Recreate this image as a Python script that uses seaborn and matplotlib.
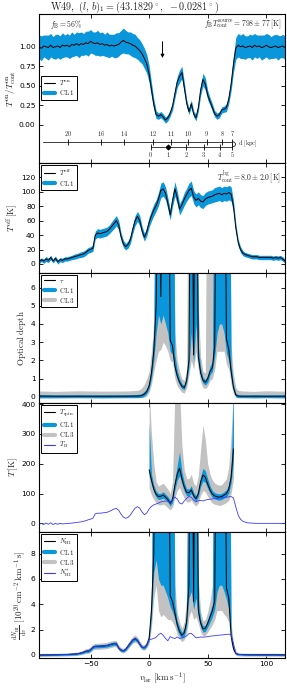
import numpy as np
import pandas as pd
import seaborn as sns
import matplotlib
matplotlib.use("Agg")
import matplotlib.pyplot as plt
from matplotlib.lines import Line2D
from matplotlib.patches import Arc

# ---------------- data ----------------
v_all = np.arange(-94, 117, 2)

ton = [1.00, 0.98, 1.01, 1.00, 0.99, 1.02, 0.99, 1.00, 1.01, 0.99,
       1.02, 1.01, 1.02, 1.00, 1.03, 1.02, 1.04, 1.02, 1.04, 1.03,
       1.05, 1.04, 1.07, 1.05, 1.04, 1.05, 1.03, 1.04, 1.02, 1.03,
       1.01, 1.02, 1.01, 1.02, 1.03, 1.06, 1.08, 1.06, 1.05, 1.04,
       1.02, 1.01, 0.98, 0.95, 0.91, 0.85, 0.78, 0.65, 0.45, 0.26,
       0.13, 0.11, 0.13, 0.10, 0.06, 0.09, 0.15, 0.24, 0.40, 0.55,
       0.62, 0.67, 0.48, 0.28, 0.17, 0.27, 0.14, 0.09, 0.22, 0.45,
       0.58, 0.52, 0.38, 0.30, 0.22, 0.14, 0.11, 0.13, 0.19, 0.20,
       0.22, 0.33, 0.52, 0.78, 0.98, 1.02, 1.00, 1.01, 0.99, 1.00,
       1.01, 0.99, 1.02, 1.00, 1.01, 0.99, 1.00, 1.02, 1.00, 0.99,
       1.00, 1.01, 0.99, 1.00, 1.01, 0.99]
ton_err = [0.15, 0.16, 0.14, 0.15, 0.16, 0.15, 0.14, 0.16, 0.15, 0.15,
           0.16, 0.14, 0.15, 0.15, 0.16, 0.14, 0.15, 0.16, 0.15, 0.14,
           0.15, 0.16, 0.15, 0.14, 0.15, 0.16, 0.15, 0.15, 0.14, 0.16,
           0.15, 0.14, 0.15, 0.16, 0.15, 0.15, 0.16, 0.15, 0.14, 0.15,
           0.15, 0.15, 0.14, 0.14, 0.13, 0.13, 0.12, 0.11, 0.09, 0.07,
           0.05, 0.04, 0.04, 0.04, 0.04, 0.04, 0.04, 0.05, 0.06, 0.07,
           0.08, 0.08, 0.07, 0.05, 0.04, 0.05, 0.04, 0.04, 0.05, 0.07,
           0.08, 0.08, 0.06, 0.05, 0.05, 0.04, 0.04, 0.04, 0.04, 0.04,
           0.05, 0.06, 0.08, 0.11, 0.14, 0.15, 0.15, 0.16, 0.15, 0.14,
           0.15, 0.16, 0.15, 0.15, 0.14, 0.16, 0.15, 0.15, 0.16, 0.14,
           0.15, 0.15, 0.16, 0.14, 0.15, 0.15]

toff = [3, 6, 4, 7, 5, 9, 4, 8, 3, 6,
        5, 7, 7, 8, 9, 10, 11, 12, 13, 14,
        16, 19, 20, 22, 40, 43, 42, 43, 44, 45,
        48, 52, 56, 60, 54, 38, 28, 24, 27, 34,
        48, 60, 66, 60, 46, 37, 45, 58, 67, 75,
        81, 90, 102, 104, 98, 84, 68, 88, 104, 92,
        76, 82, 90, 96, 102, 105, 93, 88, 91, 87,
        86, 90, 92, 93, 94, 96, 97, 98, 96, 98,
        97, 99, 97, 80, 50, 30, 20, 15, 13, 12,
        11, 10, 10, 10, 9, 9, 9, 9, 9, 9,
        8, 9, 8, 9, 7, 4]
toff_err = [3, 2.5, 3, 3.5, 3, 3, 2.5, 3, 3, 3,
            3, 3, 3, 3, 3, 3.5, 3.5, 3.5, 4, 4,
            4, 4, 4, 4.5, 5.5, 6, 6, 6, 6, 6,
            6, 6.5, 7, 7, 6.5, 5.5, 5, 4.5, 5, 5.5,
            6, 7, 7, 7, 6, 5.5, 6, 7, 7.5, 8,
            8, 9, 10, 10, 9, 8, 7, 8, 10, 9,
            8, 8, 9, 9, 10, 10, 9, 9, 9, 9,
            9, 9, 9, 9, 9, 10, 10, 10, 10, 10,
            10, 10, 10, 8, 6, 4.5, 4, 3.5, 3, 3,
            3, 3, 3, 3, 3, 3, 3, 3, 3, 3,
            3, 3, 3, 3, 3, 3]

tb = [-3, 0, -4, 1, -3, 2, -4, 0, -3, 0,
      -2, -1, -1, 0, 1, 2, 3, 4, 5, 7,
      9, 12, 14, 17, 32, 34, 34, 35, 36, 37,
      40, 44, 48, 50, 44, 31, 21, 17, 20, 28,
      40, 51, 56, 51, 38, 29, 35, 48, 57, 62,
      65, 68, 72, 74, 75, 74, 70, 80, 88, 82,
      68, 65, 75, 84, 90, 88, 78, 72, 76, 77,
      75, 78, 80, 81, 82, 83, 84, 85, 86, 87,
      88, 89, 90, 85, 55, 28, 14, 7, 4, 2,
      1, 1, 0, 0, 0, 0, 0, 0, 0, 0,
      0, 0, 0, 0, 0, 0]

# optical depth (values of 20 are saturated, off the top)
v_tau = [-94, -80, -60, -40, -20] + list(range(-10, 78, 2)) + [80, 90, 100, 116]
tau = [0.04, 0.03, 0.03, 0.03, 0.03,
       0.04, 0.05, 0.08, 0.15, 0.3, 0.6, 1.3, 2.5, 5.0, 20,
       5.5, 20, 20, 20, 3.1, 2.8, 1.7, 1.15, 0.8, 0.58,
       0.5, 0.9, 2.0, 20, 2.3, 20, 2.2, 1.3, 0.9, 0.8,
       1.0, 1.4, 1.6, 2.8, 20, 20, 20, 20, 3.2, 2.6,
       1.4, 0.5, 0.1, 0.04,
       0.03, 0.03, 0.03, 0.03]
tau_lo1 = [-0.06, -0.06, -0.05, -0.06, -0.05,
           -0.05, -0.04, -0.02, 0.05, 0.18, 0.45, 1.0, 2.0, 3.5, 4.5,
           4.0, 4.5, 4.0, 3.5, 2.5, 2.3, 1.4, 0.95, 0.65, 0.45,
           0.4, 0.75, 1.6, 3.5, 1.9, 4.0, 1.9, 1.1, 0.75, 0.65,
           0.8, 1.2, 1.4, 2.2, 3.5, 4.0, 4.0, 3.5, 2.4, 2.0,
           1.1, 0.35, 0.0, -0.05,
           -0.05, -0.06, -0.05, -0.06]
tau_hi1 = [0.12, 0.11, 0.12, 0.11, 0.12,
           0.13, 0.15, 0.2, 0.3, 0.45, 0.8, 1.7, 3.5, 20, 20,
           20, 20, 20, 20, 20, 20, 2.3, 1.45, 1.0, 0.72,
           0.62, 1.1, 2.6, 20, 20, 20, 2.8, 1.6, 1.05, 0.95,
           1.2, 1.7, 1.9, 20, 20, 20, 20, 20, 20, 20,
           1.8, 0.7, 0.2, 0.12,
           0.11, 0.12, 0.11, 0.12]
tau_lo3 = [-0.04, -0.03, -0.03, -0.04, -0.03,
           -0.03, -0.03, -0.03, -0.02, 0.05, 0.25, 0.7, 1.4, 2.0, 2.5,
           2.6, 3.0, 2.8, 2.5, 2.0, 1.9, 1.0, 0.6, 0.4, 0.25,
           0.2, 0.5, 1.2, 2.0, 1.5, 2.5, 1.5, 0.8, 0.5, 0.45,
           0.6, 0.9, 1.0, 1.5, 2.5, 2.5, 2.5, 2.5, 1.8, 1.5,
           0.7, 0.15, -0.03, -0.03,
           -0.03, -0.04, -0.03, -0.04]
tau_hi3 = [0.32, 0.30, 0.33, 0.31, 0.32,
           0.35, 0.4, 0.5, 0.7, 1.0, 1.4, 2.5, 4.0, 20, 20,
           20, 20, 20, 20, 20, 20, 3.5, 2.0, 1.4, 1.0,
           0.9, 1.5, 20, 20, 20, 20, 5.0, 2.2, 1.4, 1.3,
           20, 20, 20, 20, 20, 20, 20, 20, 20, 20,
           2.8, 1.2, 0.5, 0.35,
           0.32, 0.30, 0.33, 0.31]

# spin temperature
v_spin = list(range(0, 74, 2))
tspin = [180, 145, 115, 97, 90, 91, 95, 88, 80, 67,
         80, 128, 165, 185, 150, 122, 104, 103, 112, 93,
         83, 100, 140, 162, 155, 132, 112, 98, 92, 89,
         88, 90, 95, 100, 115, 155, 250]
tspin_lo1 = [160, 130, 105, 88, 80, 82, 85, 79, 71, 58,
             70, 112, 145, 160, 132, 108, 93, 92, 100, 83,
             74, 89, 124, 142, 137, 117, 100, 87, 82, 79,
             78, 80, 85, 89, 102, 135, 210]
tspin_hi1 = [340, 165, 128, 108, 100, 101, 106, 98, 90, 77,
             92, 148, 195, 240, 172, 138, 116, 115, 126, 104,
             93, 113, 158, 185, 176, 150, 126, 110, 103, 100,
             99, 101, 106, 113, 130, 185, 450]
tspin_lo3 = [120, 95, 80, 68, 62, 62, 65, 60, 52, 45,
             55, 85, 110, 120, 100, 85, 72, 72, 78, 65,
             58, 68, 95, 110, 105, 90, 78, 68, 64, 62,
             60, 62, 66, 70, 78, 100, 150]
tspin_hi3 = [450, 300, 200, 140, 125, 130, 135, 125, 115, 100,
             140, 450, 450, 450, 260, 180, 150, 150, 165, 135,
             125, 160, 250, 330, 280, 200, 165, 145, 135, 130,
             128, 130, 140, 150, 190, 300, 450]

# column density per velocity channel (30 = saturated)
v_nhi = [-94, -86, -78, -70, -66] + list(range(-62, 78, 2)) + [80, 86, 96, 106, 116]
nhi = [0.00, 0.01, 0.02, 0.04, 0.06,
       0.08, 0.12, 0.16, 0.22, 0.30, 0.31, 0.42, 0.61, 0.68, 0.68,
       0.69, 0.70, 0.72, 0.74, 0.80, 0.85, 0.90, 0.88, 0.55, 0.38,
       0.33, 0.45, 0.70, 0.95, 1.18, 1.28, 1.15, 0.85, 0.60, 0.58,
       0.80, 1.30, 3.50, 8.00, 30, 30, 30, 30, 30, 30,
       4.70, 4.20, 3.30, 2.40, 1.85, 1.55, 1.75, 2.60, 5.50, 30,
       4.20, 30, 3.50, 2.50, 2.05, 2.10, 2.50, 3.00, 3.50, 4.30,
       30, 30, 30, 30, 5.30, 4.50, 1.50, 0.50, 0.12, 0.05,
       0.03, 0.02, 0.02, 0.02, 0.01]
nhi_lo1 = [-0.06, -0.05, -0.04, -0.03, -0.01,
           0.01, 0.05, 0.08, 0.13, 0.20, 0.20, 0.30, 0.50, 0.56, 0.56,
           0.57, 0.58, 0.60, 0.62, 0.67, 0.72, 0.77, 0.75, 0.44, 0.28,
           0.24, 0.35, 0.58, 0.82, 1.04, 1.14, 1.02, 0.73, 0.49, 0.47,
           0.68, 1.10, 2.90, 6.50, 7.50, 6.00, 5.50, 5.50, 5.00, 4.50,
           3.80, 3.40, 2.80, 2.00, 1.55, 1.30, 1.50, 2.20, 4.50, 5.00,
           3.60, 4.50, 3.00, 2.20, 1.80, 1.85, 2.20, 2.60, 3.00, 3.60,
           5.00, 5.50, 5.50, 5.00, 4.40, 3.60, 1.20, 0.38, 0.05, -0.01,
           -0.03, -0.04, -0.04, -0.04, -0.05]
nhi_hi1 = [0.06, 0.07, 0.08, 0.11, 0.13,
           0.15, 0.19, 0.24, 0.31, 0.40, 0.42, 0.55, 0.73, 0.80, 0.80,
           0.81, 0.82, 0.84, 0.86, 0.93, 0.98, 1.03, 1.01, 0.66, 0.48,
           0.42, 0.55, 0.82, 1.08, 1.32, 1.42, 1.28, 0.97, 0.71, 0.69,
           0.92, 1.50, 4.20, 30, 30, 30, 30, 30, 30, 30,
           30, 30, 4.00, 2.70, 2.15, 1.80, 2.10, 3.10, 30, 30,
           30, 30, 4.50, 2.80, 2.30, 2.35, 2.80, 3.40, 4.00, 30,
           30, 30, 30, 30, 30, 30, 1.90, 0.65, 0.20, 0.11,
           0.09, 0.08, 0.08, 0.08, 0.07]
nhi_lo3 = [-0.12, -0.11, -0.10, -0.08, -0.06,
           -0.05, -0.02, 0.02, 0.06, 0.12, 0.12, 0.20, 0.40, 0.44, 0.44,
           0.45, 0.46, 0.48, 0.50, 0.55, 0.60, 0.65, 0.63, 0.34, 0.20,
           0.16, 0.26, 0.47, 0.70, 0.92, 1.00, 0.90, 0.62, 0.40, 0.38,
           0.56, 0.90, 2.20, 4.50, 5.50, 3.50, 3.00, 3.20, 3.00, 2.80,
           2.80, 2.60, 2.20, 1.60, 1.25, 1.05, 1.20, 1.70, 3.00, 3.50,
           2.80, 3.00, 2.50, 1.80, 1.50, 1.55, 1.80, 2.10, 2.40, 2.80,
           3.50, 3.50, 3.50, 3.20, 3.00, 2.60, 0.90, 0.25, -0.02, -0.07,
           -0.09, -0.10, -0.10, -0.10, -0.11]
nhi_hi3 = [0.12, 0.13, 0.14, 0.17, 0.19,
           0.22, 0.26, 0.32, 0.40, 0.50, 0.52, 0.65, 0.85, 0.92, 0.92,
           0.93, 0.95, 0.97, 0.99, 1.06, 1.10, 1.15, 1.13, 0.78, 0.58,
           0.52, 0.66, 0.95, 1.22, 1.46, 1.58, 1.42, 1.10, 0.82, 0.80,
           1.06, 1.80, 5.50, 30, 30, 30, 30, 30, 30, 30,
           30, 30, 5.50, 3.30, 2.60, 2.10, 2.60, 4.50, 30, 30,
           30, 30, 6.00, 3.40, 2.70, 2.80, 3.40, 4.30, 5.50, 30,
           30, 30, 30, 30, 30, 30, 2.60, 0.85, 0.30, 0.17,
           0.15, 0.14, 0.14, 0.14, 0.13]
nhi_star = [0.00, 0.01, 0.02, 0.04, 0.06,
            0.08, 0.12, 0.16, 0.22, 0.30, 0.31, 0.42, 0.61, 0.68, 0.68,
            0.69, 0.70, 0.72, 0.74, 0.80, 0.85, 0.90, 0.88, 0.55, 0.38,
            0.33, 0.45, 0.70, 0.95, 1.18, 1.28, 1.15, 0.85, 0.60, 0.58,
            0.80, 1.20, 1.25, 1.30, 1.40, 1.60, 1.72, 1.55, 1.30, 1.12,
            1.45, 1.35, 1.30, 1.42, 1.30, 1.35, 1.40, 1.50, 1.68, 1.70,
            1.55, 1.35, 1.38, 1.42, 1.40, 1.42, 1.45, 1.48, 1.50, 1.52,
            1.55, 1.56, 1.58, 1.60, 1.62, 1.64, 1.60, 0.90, 0.15, 0.04,
            0.02, 0.01, 0.01, 0.01, 0.00]

# kinematic distance scale (far / near side)
far_dist = [20, 16, 14, 12, 11, 10, 9, 8, 7]
far_vel = [-69, -41, -21.5, 3.5, 18.5, 33.5, 49, 62.5, 71]
near_dist = [0, 1, 2, 3, 4, 5]
near_vel = [1.5, 16, 31.5, 46.5, 60.5, 71]
arrow_vel = 11.4

# ---------------- style ----------------
BLUE = "#0a96da"
GRAY = "#c2c2c2"
TBC = "#3a3aff"

sns.set_style("ticks")
plt.rcParams["font.family"] = ["DejaVu Sans"]
plt.rcParams["mathtext.fontset"] = "cm"
plt.rcParams["axes.linewidth"] = 0.8

fig = plt.figure(figsize=(2.87, 6.88), dpi=100)
L, W = 39 / 287, 246 / 287
edges = [14, 163, 273, 403, 532, 658]
axes = []
for i in range(5):
    top, bot = edges[i], edges[i + 1]
    axes.append(fig.add_axes([L, 1 - bot / 688, W, (bot - top) / 688]))

def style(ax, ylim, yticks, fmt=None):
    ax.set_xlim(-94, 116)
    ax.set_ylim(*ylim)
    ax.set_xticks([-50, 0, 50, 100])
    ax.set_yticks(yticks)
    if fmt:
        ax.set_yticklabels([fmt % t for t in yticks])
    ax.tick_params(direction="in", top=True, right=True, length=3, width=0.6,
                   labelsize=5.4, pad=2.5, colors="k")
    for s in ax.spines.values():
        s.set_color("k")
    ax.set_xlabel("")

def band(ax, v, lo, hi, color):
    ax.fill_between(v, lo, hi, color=color, lw=0)

def legend(ax, items, **kw):
    handles = [Line2D([], [], color=c, lw=lw) for c, lw, _ in items]
    labels = [t for _, _, t in items]
    lg = ax.legend(handles, labels, loc="upper left", fontsize=5, frameon=True,
                   fancybox=False, edgecolor="k", framealpha=1, borderpad=0.35,
                   labelspacing=0.15, handlelength=1.6, handletextpad=0.6,
                   borderaxespad=0.3, **kw)
    lg.get_frame().set_linewidth(0.7)

# ---- panel 1: T_on / T_cont ----
ax = axes[0]
ton_a, ton_e = np.array(ton), np.array(ton_err)
band(ax, v_all, ton_a - ton_e, ton_a + ton_e, BLUE)
sns.lineplot(x=v_all, y=ton, ax=ax, color="k", lw=0.7)
style(ax, (-0.49, 1.42), [0, 0.25, 0.5, 0.75, 1.0], "%.2f")
ax.set_xticklabels([])
ax.set_ylabel(r"$T^{\rm on}/T^{\rm on}_{\rm cont}$", fontsize=6.5, labelpad=1)
legend(ax, [("k", 0.8, r"$T^{\rm on}$"), (BLUE, 3, r"${\rm CL\,1}$")],
       bbox_to_anchor=(0.0, 0.6))
ax.text(0.045, 0.93, r"$f_{\rm B}=56\%$", transform=ax.transAxes, fontsize=5.5,
        va="center")
ax.text(0.985, 0.93, r"$f_{\rm B}T^{\rm source}_{\rm cont}=798\pm77\,[{\rm K}]$",
        transform=ax.transAxes, fontsize=5.5, va="center", ha="right")
ax.annotate("", xy=(arrow_vel, 0.82), xytext=(arrow_vel, 1.10),
            arrowprops=dict(arrowstyle="-|>", color="k", lw=0.7, mutation_scale=5))
y_up, y_lo = -0.218, -0.282
ax.plot([-91, far_vel[-1]], [y_up, y_up], color="0.25", lw=0.7)
ax.plot([near_vel[0], near_vel[-1]], [y_lo, y_lo], color="0.25", lw=0.7)
ax.add_patch(Arc((71, (y_up + y_lo) / 2), 5.5, y_up - y_lo, theta1=-90, theta2=90,
                 color="0.25", lw=0.7))
ax.plot(far_vel, [y_up] * len(far_vel), ls="none", marker="|", ms=4, mew=0.6, color="k")
ax.plot(near_vel, [y_lo] * len(near_vel), ls="none", marker="|", ms=4, mew=0.6, color="k")
ax.plot(near_vel[1], y_lo, marker="o", ms=2.5, color="k")
for d, v in zip(far_dist, far_vel):
    ax.text(v, y_up + 0.11, r"$%d$" % d, fontsize=4.5, ha="center", va="center")
for d, v in zip(near_dist, near_vel):
    ax.text(v, y_lo - 0.1, r"$%d$" % d, fontsize=4.5, ha="center", va="center")
ax.text(76, (y_up + y_lo) / 2, r"${\rm d\ [kpc]}$", fontsize=4.5, va="center")
fig.text(50 / 287, 1 - 7 / 688,
         r"${\rm W49},\ (l,\,b)_1=(43.1829^\circ,\ -0.0281^\circ)$",
         fontsize=7.3, ha="left", va="center")

# ---- panel 2: T_off ----
ax = axes[1]
toff_a, toff_e = np.array(toff), np.array(toff_err)
band(ax, v_all, toff_a - toff_e, toff_a + toff_e, BLUE)
sns.lineplot(x=v_all, y=toff, ax=ax, color="k", lw=0.7)
style(ax, (-12.5, 140), [0, 20, 40, 60, 80, 100, 120])
ax.set_xticklabels([])
ax.set_ylabel(r"$T^{\rm off}\,[{\rm K}]$", fontsize=6.5, labelpad=1)
legend(ax, [("k", 0.8, r"$T^{\rm off}$"), (BLUE, 3, r"${\rm CL\,1}$")])
ax.text(0.985, 0.87, r"$T^{\rm bg}_{\rm cont}=8.0\pm2.0\,[{\rm K}]$",
        transform=ax.transAxes, fontsize=5.5, va="center", ha="right")

# ---- panel 3: optical depth ----
ax = axes[2]
band(ax, v_tau, tau_lo3, tau_hi3, GRAY)
band(ax, v_tau, tau_lo1, tau_hi1, BLUE)
sns.lineplot(x=v_tau, y=tau, ax=ax, color="k", lw=0.7)
style(ax, (-0.34, 6.8), [0, 1, 2, 3, 4, 5, 6])
ax.set_xticklabels([])
ax.set_ylabel(r"${\rm Optical\ depth}$", fontsize=6.5, labelpad=2)
legend(ax, [("k", 0.8, r"$\tau$"), (BLUE, 3, r"${\rm CL\,1}$"),
            (GRAY, 3, r"${\rm CL\,3}$")])

# ---- panel 4: temperatures ----
ax = axes[3]
band(ax, v_spin, tspin_lo3, tspin_hi3, GRAY)
band(ax, v_spin, tspin_lo1, tspin_hi1, BLUE)
sns.lineplot(x=v_spin, y=tspin, ax=ax, color="k", lw=0.7)
sns.lineplot(x=v_all, y=tb, ax=ax, color=TBC, lw=0.6)
style(ax, (-29, 404), [0, 100, 200, 300, 400])
ax.set_xticklabels([])
ax.set_ylabel(r"$T\,[{\rm K}]$", fontsize=6.5, labelpad=1)
legend(ax, [("k", 0.8, r"$T_{\rm spin}$"), (BLUE, 3, r"${\rm CL\,1}$"),
            (GRAY, 3, r"${\rm CL\,3}$"), (TBC, 0.8, r"$T_{\rm B}$")])

# ---- panel 5: column density ----
ax = axes[4]
band(ax, v_nhi, nhi_lo3, nhi_hi3, GRAY)
band(ax, v_nhi, nhi_lo1, nhi_hi1, BLUE)
sns.lineplot(x=v_nhi, y=nhi, ax=ax, color="k", lw=0.7)
sns.lineplot(x=v_nhi, y=nhi_star, ax=ax, color=TBC, lw=0.6)
style(ax, (-0.24, 9.7), [0, 2, 4, 6, 8])
ax.set_ylabel(r"$\frac{{\rm d}N_{\rm HI}}{{\rm d}v}\ [10^{20}\,{\rm cm^{-2}\,km^{-1}\,s}]$",
              fontsize=6.5, labelpad=1)
ax.set_xlabel(r"$v_{\rm lsr}\ [{\rm km\,s^{-1}}]$", fontsize=6.5, labelpad=2)
legend(ax, [("k", 0.8, r"$N_{\rm HI}$"), (BLUE, 3, r"${\rm CL\,1}$"),
            (GRAY, 3, r"${\rm CL\,3}$"), (TBC, 0.8, r"$N^{*}_{\rm HI}$")])

fig.savefig("out.png", dpi=100)
